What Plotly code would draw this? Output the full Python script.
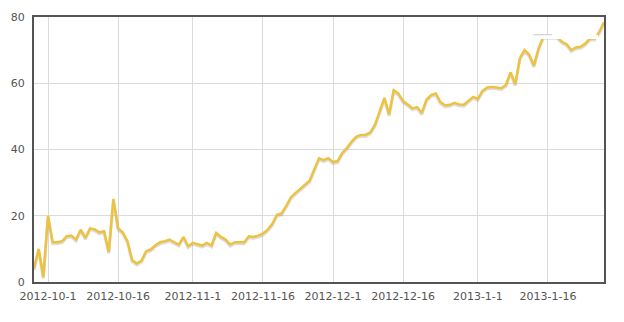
import datetime as dt
import plotly.graph_objects as go

start = dt.date(2012, 9, 28)
values = [
    4, 10, 1.5, 20, 12, 12, 12.3, 13.8, 14, 12.8,
    15.8, 13.3, 16.2, 15.9, 15, 15.3, 9.1, 25.1, 16.2, 15,
    12.3, 6.6, 5.6, 6.4, 9.3, 9.8, 11.1, 12, 12.3, 12.8,
    12, 11.3, 13.6, 10.8, 11.8, 11.5, 11, 11.8, 11, 14.8,
    13.6, 12.8, 11.3, 12, 12, 12, 13.8, 13.6, 14, 14.6,
    15.8, 17.5, 20.3, 20.7, 23, 25.6, 26.9, 28.1, 29.3, 30.6,
    34, 37.3, 36.8, 37.4, 36.2, 36.5, 39, 40.5, 42.4, 43.9,
    44.4, 44.4, 45.2, 47.5, 51.5, 55.6, 50.6, 57.9, 56.9, 54.6,
    53.6, 52.4, 52.8, 51, 55, 56.4, 56.9, 54.3, 53.3, 53.5,
    54.1, 53.6, 53.5, 54.6, 55.9, 55.3, 57.7, 58.7, 58.9, 58.7,
    58.5, 59.5, 63.3, 59.7, 67.6, 70, 68.6, 65.3, 70.5, 74,
    74, 74, 74, 72.5, 71.8, 70, 70.8, 71, 72, 73.5,
    73.5, 75.5, 78.5,
]
dates = [start + dt.timedelta(days=i) for i in range(len(values))]

tick_dates = ["2012-10-01", "2012-10-16", "2012-11-01", "2012-11-16",
              "2012-12-01", "2012-12-16", "2013-01-01", "2013-01-16"]
tick_labels = ["2012-10-1", "2012-10-16", "2012-11-1", "2012-11-16",
               "2012-12-1", "2012-12-16", "2013-1-1", "2013-1-16"]
y_ticks = [0, 20, 40, 60, 80]

fig = go.Figure()
# soft shadow under the line
fig.add_trace(go.Scatter(
    x=dates, y=[v - 0.45 for v in values], mode="lines",
    line=dict(color="rgba(0,0,0,0.13)", width=3),
    hoverinfo="skip", showlegend=False,
))
fig.add_trace(go.Scatter(
    x=dates, y=values, mode="lines",
    line=dict(color="#edc240", width=2.5),
    showlegend=False,
))

# leftover white tooltip box from the original screenshot
fig.add_shape(type="rect", xref="paper", yref="paper",
              x0=0.876, x1=0.9895, y0=0.917, y1=0.933,
              fillcolor="white", line=dict(width=0), layer="above")
fig.add_shape(type="line", xref="paper", yref="paper",
              x0=0.876, x1=0.909, y0=0.933, y1=0.933,
              line=dict(color="#c8c8c8", width=1), layer="above")

axis_font = dict(family="DejaVu Sans, Verdana, sans-serif", size=11, color="#545454")
fig.update_layout(
    width=624, height=322,
    margin=dict(l=32, r=20, t=11, b=40),
    paper_bgcolor="white", plot_bgcolor="white",
    xaxis=dict(
        range=[dates[0], dates[-1]],
        tickvals=tick_dates, ticktext=tick_labels,
        showgrid=True, gridcolor="#dadada", gridwidth=1,
        showline=True, linecolor="#545454", linewidth=2, mirror=True,
        ticks="", tickfont=axis_font, ticklabelstandoff=3,
        zeroline=False,
    ),
    yaxis=dict(
        range=[0, 80], tickvals=y_ticks,
        showgrid=True, gridcolor="#dadada", gridwidth=1,
        showline=True, linecolor="#545454", linewidth=2, mirror=True,
        ticks="", tickfont=axis_font, ticklabelstandoff=5,
        zeroline=False,
    ),
)
fig.write_html("out.html")
